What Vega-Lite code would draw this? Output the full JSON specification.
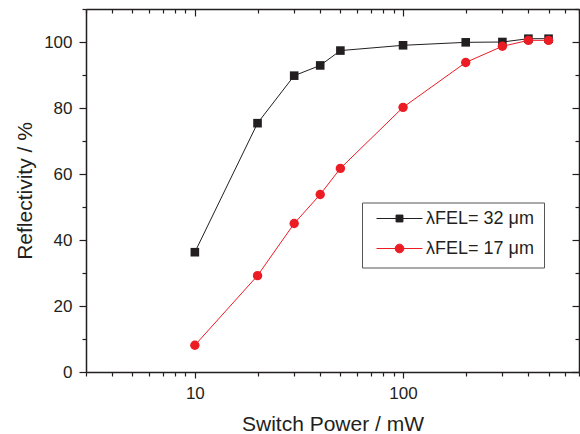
{
  "$schema": "https://vega.github.io/schema/vega-lite/v6.json",
  "width": 493,
  "height": 363,
  "autosize": {"type": "none"},
  "padding": {"left": 86, "top": 9, "right": 1, "bottom": 62},
  "background": "white",
  "data": {
    "values": [
      {"series": "λFEL= 32 μm", "power": 10, "refl": 36.3},
      {"series": "λFEL= 32 μm", "power": 20, "refl": 75.4},
      {"series": "λFEL= 32 μm", "power": 30, "refl": 89.8},
      {"series": "λFEL= 32 μm", "power": 40, "refl": 92.9},
      {"series": "λFEL= 32 μm", "power": 50, "refl": 97.4},
      {"series": "λFEL= 32 μm", "power": 100, "refl": 99.0},
      {"series": "λFEL= 32 μm", "power": 200, "refl": 99.9},
      {"series": "λFEL= 32 μm", "power": 300, "refl": 100.0},
      {"series": "λFEL= 32 μm", "power": 400, "refl": 101.0},
      {"series": "λFEL= 32 μm", "power": 500, "refl": 101.0},
      {"series": "λFEL= 17 μm", "power": 10, "refl": 8.1},
      {"series": "λFEL= 17 μm", "power": 20, "refl": 29.2},
      {"series": "λFEL= 17 μm", "power": 30, "refl": 45.0},
      {"series": "λFEL= 17 μm", "power": 40, "refl": 53.8},
      {"series": "λFEL= 17 μm", "power": 50, "refl": 61.7},
      {"series": "λFEL= 17 μm", "power": 100, "refl": 80.2},
      {"series": "λFEL= 17 μm", "power": 200, "refl": 93.8},
      {"series": "λFEL= 17 μm", "power": 300, "refl": 98.7},
      {"series": "λFEL= 17 μm", "power": 400, "refl": 100.5},
      {"series": "λFEL= 17 μm", "power": 500, "refl": 100.5}
    ]
  },
  "config": {
    "view": {"stroke": null},
    "font": "Liberation Sans",
    "axis": {
      "grid": false,
      "domainColor": "#231f20",
      "domainWidth": 1.5,
      "tickColor": "#231f20",
      "tickWidth": 1.2,
      "labelColor": "#231f20",
      "labelFont": "Liberation Sans",
      "labelFontSize": 17,
      "titleFont": "Liberation Sans",
      "titleFontSize": 21,
      "titleFontWeight": "normal",
      "titleColor": "#231f20",
      "labelOverlap": false,
      "labelFlush": false,
      "labelBound": false
    },
    "legend": {
      "padding": 10,
      "strokeColor": "#555555",
      "fillColor": "white",
      "symbolSize": 2116,
      "symbolStrokeWidth": 1,
      "symbolOffset": 4,
      "labelOffset": 3,
      "clipHeight": 12,
      "rowPadding": 12,
      "labelFont": "Liberation Sans",
      "labelFontSize": 18,
      "labelColor": "#231f20"
    }
  },
  "resolve": {"axis": {"x": "independent", "y": "independent"}},
  "layer": [
    {
      "transform": [{"filter": "datum.series == 'λFEL= 32 μm'"}],
      "mark": {"type": "line", "strokeWidth": 1, "color": "#231f20"},
      "encoding": {
        "x": {
          "field": "power", "type": "quantitative",
          "scale": {"type": "log", "domain": [3, 700], "nice": false},
          "axis": {
            "orient": "bottom",
            "title": "Switch Power / mW",
            "values": [3,4,5,6,7,8,9,10,20,30,40,50,60,70,80,90,100,200,300,400,500,600,700],
            "labelExpr": "(datum.value == 10 || datum.value == 100) ? datum.value + '' : ''",
            "tickSize": {"condition": {"test": "datum.value == 10 || datum.value == 100", "value": 6}, "value": 4},
            "labelPadding": 7,
            "titleX": 246.5,
            "titleY": 58,
            "titleAlign": "center",
            "titleBaseline": "alphabetic"
          }
        },
        "y": {
          "field": "refl", "type": "quantitative",
          "scale": {"domain": [0, 110], "nice": false, "zero": false},
          "axis": {
            "orient": "left",
            "title": "Reflectivity / %",
            "values": [0,10,20,30,40,50,60,70,80,90,100,110],
            "labelExpr": "(datum.value % 20 == 0 && datum.value <= 100) ? datum.value + '' : ''",
            "tickSize": {"condition": {"test": "datum.value % 20 == 0", "value": 7}, "value": 4},
            "labelPadding": 7,
            "titleX": -55,
            "titleY": 181.5,
            "titleAngle": 270,
            "titleAlign": "center",
            "titleBaseline": "alphabetic"
          }
        }
      }
    },
    {
      "transform": [{"filter": "datum.series == 'λFEL= 17 μm'"}],
      "mark": {"type": "line", "strokeWidth": 1, "color": "#ec1c24"},
      "encoding": {
        "x": {"field": "power", "type": "quantitative", "axis": null},
        "y": {"field": "refl", "type": "quantitative", "axis": null}
      }
    },
    {
      "transform": [{"filter": "datum.series == 'λFEL= 32 μm'"}],
      "mark": {"type": "square", "filled": true, "opacity": 1, "size": 74, "color": "#231f20"},
      "encoding": {
        "x": {
          "field": "power", "type": "quantitative",
          "axis": {
            "orient": "top",
            "title": null,
            "labels": false,
            "values": [3,4,5,6,7,8,9,10,20,30,40,50,60,70,80,90,100,200,300,400,500,600,700],
            "tickSize": {"condition": {"test": "datum.value == 10 || datum.value == 100", "value": -7}, "value": -4}
          }
        },
        "y": {
          "field": "refl", "type": "quantitative",
          "axis": {
            "orient": "right",
            "title": null,
            "labels": false,
            "values": [0,10,20,30,40,50,60,70,80,90,100,110],
            "tickSize": {"condition": {"test": "datum.value % 20 == 0", "value": -7}, "value": -4}
          }
        }
      }
    },
    {
      "transform": [{"filter": "datum.series == 'λFEL= 17 μm'"}],
      "mark": {"type": "circle", "opacity": 1, "size": 88, "color": "#ec1c24"},
      "encoding": {
        "x": {"field": "power", "type": "quantitative", "axis": null},
        "y": {"field": "refl", "type": "quantitative", "axis": null}
      }
    },
    {
      "transform": [{"filter": "false"}],
      "mark": {"type": "point", "filled": true, "opacity": 1, "size": 2116, "strokeWidth": 1},
      "encoding": {
        "x": {"field": "power", "type": "quantitative", "axis": null},
        "y": {"field": "refl", "type": "quantitative", "axis": null},
        "color": {
          "field": "series", "type": "nominal",
          "scale": {"domain": ["λFEL= 32 μm", "λFEL= 17 μm"], "range": ["#231f20", "#ec1c24"]},
          "legend": {"title": null, "orient": "none", "legendX": 276, "legendY": 193.5}
        },
        "stroke": {
          "field": "series", "type": "nominal",
          "scale": {"domain": ["λFEL= 32 μm", "λFEL= 17 μm"], "range": ["#231f20", "#ec1c24"]},
          "legend": {"title": null, "orient": "none", "legendX": 276, "legendY": 193.5}
        },
        "shape": {
          "field": "series", "type": "nominal",
          "scale": {"domain": ["λFEL= 32 μm", "λFEL= 17 μm"], "range": ["M-1,0H1M-0.15,-0.15H0.15V0.15H-0.15Z", "M-1,0H1M-0.19,0A0.19,0.19,0,1,1,0.19,0A0.19,0.19,0,1,1,-0.19,0Z"]},
          "legend": {"title": null, "orient": "none", "legendX": 276, "legendY": 193.5}
        }
      }
    }
  ]
}
